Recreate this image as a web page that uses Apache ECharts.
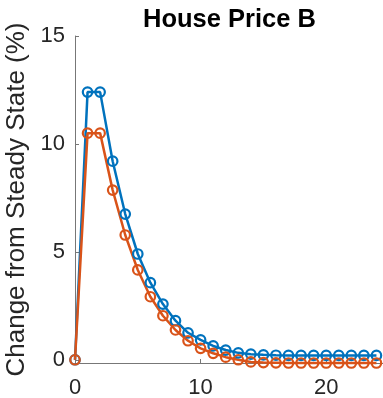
<!DOCTYPE html>
<html>
<head>
<meta charset="utf-8">
<script src="https://cdn.jsdelivr.net/npm/echarts@6/dist/echarts.min.js"></script>
<style>html,body{margin:0;padding:0;background:#fff}#c{width:383px;height:398px}</style>
</head>
<body>
<div id="c"></div>
<script>
const periods = [0,1,2,3,4,5,6,7,8,9,10,11,12,13,14,15,16,17,18,19,20,21,22,23,24];
const seriesBlue = [0,12.4,12.4,9.2,6.75,4.9,3.57,2.58,1.81,1.25,0.92,0.64,0.45,0.32,0.26,0.23,0.21,0.2,0.2,0.2,0.2,0.2,0.2,0.2,0.2];
const seriesOrange = [0,10.5,10.5,7.86,5.78,4.16,2.92,2.04,1.38,0.88,0.53,0.30,0.12,0.0,-0.1,-0.13,-0.14,-0.15,-0.15,-0.15,-0.15,-0.15,-0.15,-0.15,-0.15];
const xTicks = [0,10,20];
const yTicks = [0,5,10,15];
const titleText = 'House Price B';
const yName = 'Change from Steady State (%)';

const FONT = '"Liberation Sans", Arial, Helvetica, sans-serif';
const chart = echarts.init(document.getElementById('c'), null, {renderer:'canvas'});
function mk(name, data, color){
  return {
    name, type:'line', data: periods.map((p,i)=>[p,data[i]]),
    symbol:'circle', symbolSize:9.5, showSymbol:true,
    lineStyle:{color, width:2.5},
    itemStyle:{color:'rgba(0,0,0,0)', borderColor:color, borderWidth:2.2},
    emphasis:{disabled:true}, animation:false, clip:false
  };
}
chart.setOption({
  animation:false,
  title:{text:titleText, left:138, top:2, textStyle:{fontFamily:FONT, fontWeight:'bold', fontSize:25.5, color:'#000'}},
  grid:{left:75, right:-6, top:36, bottom:35, containLabel:false, outerBoundsMode:'none'},
  xAxis:{
    type:'value', min:0, max:25, interval:10,
    axisLine:{show:true, onZero:false, lineStyle:{color:'#777', width:1}},
    axisTick:{show:true, inside:true, length:4, customValues:xTicks, lineStyle:{color:'#777'}},
    axisLabel:{customValues:xTicks, fontFamily:FONT, fontSize:22, color:'#262626', margin:14},
    splitLine:{show:false}
  },
  yAxis:{
    type:'value', min:-0.15, max:15,
    axisLine:{show:true, lineStyle:{color:'#777', width:1}},
    axisTick:{show:true, inside:true, length:4, customValues:yTicks, lineStyle:{color:'#777'}},
    axisLabel:{customValues:yTicks, fontFamily:FONT, fontSize:22, color:'#262626', margin:10},
    splitLine:{show:false},
    name:yName, nameLocation:'middle', nameGap:36,
    nameTextStyle:{fontFamily:FONT, fontSize:26, color:'#262626'}
  },
  series:[mk('B1', seriesBlue, '#0072BD'), mk('B2', seriesOrange, '#D95319')]
});
</script>
</body>
</html>
